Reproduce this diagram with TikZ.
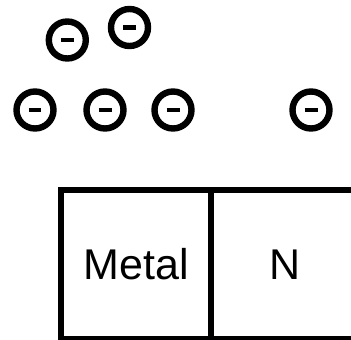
\documentclass[tikz,border=0pt]{standalone}
\usepackage{fontspec}
\setmainfont{Liberation Sans}
\begin{document}
\begin{tikzpicture}[x=1pt,y=-1pt,
  electron/.style={circle,draw,line width=6.4pt,minimum size=37pt,inner sep=0pt},
  cell/.style={draw,line width=6.7pt,minimum height=149pt,inner sep=0pt,
    font=\fontsize{43}{43}\selectfont}]
\useasboundingbox (0,0) rectangle (351,340);
\clip (0,0) rectangle (351,340);
\node[electron] (e1) at (67.3,40) {\rule{13pt}{4.5pt}};
\node[electron] (e2) at (129.5,27.5) {\rule{13pt}{4.5pt}};
\node[electron] (e3) at (35,110) {\rule{13pt}{4.5pt}};
\node[electron] (e4) at (105,110) {\rule{13pt}{4.5pt}};
\node[electron] (e5) at (173,110) {\rule{13pt}{4.5pt}};
\node[electron] (e6) at (311,110) {\rule{13pt}{4.5pt}};
\node[cell,minimum width=150pt] (metal) at (136,264.5) {Metal};
\node[cell,minimum width=149pt] (n) at (285.5,264.5) {N};
\end{tikzpicture}
\end{document}
